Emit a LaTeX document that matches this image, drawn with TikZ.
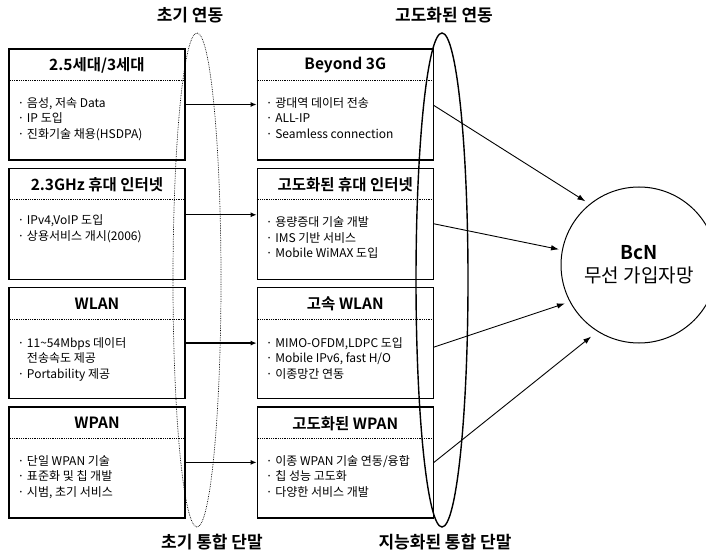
\documentclass[tikz,border=0pt]{standalone}
\usepackage{fontspec}
\setmainfont{Noto Sans CJK KR}[BoldFont={Noto Sans CJK KR Bold}]
\usepackage{tikz}
\usetikzlibrary{arrows.meta,positioning,shapes.geometric}
\tikzset{
  techbox/.style={draw, line width=1.3pt, minimum width=176pt, minimum height=111pt, inner sep=0pt},
  boxtitle/.style={font=\fontsize{15.5}{18}\selectfont\bfseries, inner sep=0pt},
  boxitems/.style={font=\fontsize{12}{15.5}\selectfont, align=left, anchor=north west, inner sep=0pt},
  sepline/.style={densely dotted, line width=0.8pt},
  linkarrow/.style={-{Latex[length=6pt,width=5pt]}, line width=1.3pt},
  netarrow/.style={-{Latex[length=8pt,width=5.5pt]}, line width=0.9pt},
  phaselabel/.style={font=\fontsize{17}{20}\selectfont\bfseries, inner sep=0pt},
  ring/.style={ellipse, draw, inner sep=0pt, minimum width=48pt, minimum height=494pt}
}

\begin{document}
\begin{tikzpicture}[x=1pt, y=-1pt]
  \fill[white] (0,0) rectangle (706,553);
  \useasboundingbox (0,0) rectangle (706,553);

  % current systems (left column)
  \node[techbox] (gen3) at (97,104.5) {};
  \node[techbox, below=7pt of gen3] (inet23) {};
  \node[techbox, below=7pt of inet23] (wlan) {};
  \node[techbox, below=7pt of wlan] (wpan) {};

  % advanced systems (right column)
  \node[techbox, right=71pt of gen3] (b3g) {};
  \node[techbox, right=71pt of inet23] (inetadv) {};
  \node[techbox, right=71pt of wlan] (wlanhs) {};
  \node[techbox, right=71pt of wpan] (wpanadv) {};

  % titles and separators
  \node[boxtitle] (gen3t) at ([yshift=-17pt]gen3.north) {2.5세대/3세대};
  \node[boxtitle] (inet23t) at ([yshift=-17pt]inet23.north) {2.3GHz 휴대 인터넷};
  \node[boxtitle] (wlant) at ([yshift=-17pt]wlan.north) {WLAN};
  \node[boxtitle] (wpant) at ([yshift=-17pt]wpan.north) {WPAN};
  \node[boxtitle] (b3gt) at ([yshift=-17pt]b3g.north) {Beyond 3G};
  \node[boxtitle] (inetadvt) at ([yshift=-17pt]inetadv.north) {고도화된 휴대 인터넷};
  \node[boxtitle] (wlanhst) at ([yshift=-17pt]wlanhs.north) {고속 WLAN};
  \node[boxtitle] (wpanadvt) at ([yshift=-17pt]wpanadv.north) {고도화된 WPAN};
  \draw[sepline] ([yshift=-32pt]gen3.north west) -- ([yshift=-32pt]gen3.north east);
  \draw[sepline] ([yshift=-32pt]inet23.north west) -- ([yshift=-32pt]inet23.north east);
  \draw[sepline] ([yshift=-32pt]wlan.north west) -- ([yshift=-32pt]wlan.north east);
  \draw[sepline] ([yshift=-32pt]wpan.north west) -- ([yshift=-32pt]wpan.north east);
  \draw[sepline] ([yshift=-32pt]b3g.north west) -- ([yshift=-32pt]b3g.north east);
  \draw[sepline] ([yshift=-32pt]inetadv.north west) -- ([yshift=-32pt]inetadv.north east);
  \draw[sepline] ([yshift=-32pt]wlanhs.north west) -- ([yshift=-32pt]wlanhs.north east);
  \draw[sepline] ([yshift=-32pt]wpanadv.north west) -- ([yshift=-32pt]wpanadv.north east);

  % bullet items
  \node[boxitems] (gen3i) at ([xshift=9pt,yshift=-49pt]gen3.north west) {· 음성, 저속 Data\\· IP 도입\\· 진화기술 채용(HSDPA)};
  \node[boxitems] (inet23i) at ([xshift=9pt,yshift=-47pt]inet23.north west) {· IPv4,VoIP 도입\\· 상용서비스 개시(2006)};
  \node[boxitems] (wlani) at ([xshift=9pt,yshift=-50pt]wlan.north west) {· 11\textasciitilde 54Mbps 데이터\\\phantom{· }전송속도 제공\\· Portability 제공};
  \node[boxitems] (wpani) at ([xshift=9pt,yshift=-49pt]wpan.north west) {· 단일 WPAN 기술\\· 표준화 및 칩 개발\\· 시범, 초기 서비스};
  \node[boxitems] (b3gi) at ([xshift=9pt,yshift=-49pt]b3g.north west) {· 광대역 데이터 전송\\· ALL-IP\\· Seamless connection};
  \node[boxitems] (inetadvi) at ([xshift=9pt,yshift=-49pt]inetadv.north west) {· 용량증대 기술 개발\\· IMS 기반 서비스\\· Mobile WiMAX 도입};
  \node[boxitems] (wlanhsi) at ([xshift=9pt,yshift=-50pt]wlanhs.north west) {· MIMO-OFDM,LDPC 도입\\· Mobile IPv6, fast H/O\\· 이종망간 연동};
  \node[boxitems] (wpanadvi) at ([xshift=9pt,yshift=-49pt]wpanadv.north west) {· 이종 WPAN 기술 연동/융합\\· 칩 성능 고도화\\· 다양한 서비스 개발};

  % target network
  \node[circle, draw, line width=1pt, minimum size=156pt, inner sep=0pt, align=center,
        font=\fontsize{19}{23}\selectfont] (bcn) at (639,265) {\textbf{BcN}\\무선 가입자망};

  % evolution arrows
  \draw[linkarrow] (gen3.east) -- (b3g.west);
  \draw[linkarrow] ([yshift=9pt]inet23.east) -- ([yshift=9pt]inetadv.west);
  \draw[linkarrow] (wlan.east) -- (wlanhs.west);
  \draw[linkarrow] (wpan.east) -- (wpanadv.west);
  \draw[netarrow, shorten >=5pt] ([yshift=-1pt]b3g.east) -- (bcn.129);
  \draw[netarrow, shorten >=3pt] (inetadv.east) -- (bcn.169);
  \draw[netarrow, shorten >=5pt] ([yshift=-4pt]wlanhs.east) -- (bcn.208);
  \draw[netarrow, shorten >=8pt] (wpanadv.east) -- (bcn.238);

  % integration phases
  \node[ring, densely dotted, line width=0.7pt] (earlyring) at (197,280) {};
  \node[ring, line width=1.4pt, minimum width=52pt] (advring) at (442,280) {};
  \node[phaselabel] (earlytop) at (190,15) {초기 연동};
  \node[phaselabel] (advtop) at (444,15) {고도화된 연동};
  \node[phaselabel] (earlybot) at (212,542) {초기 통합 단말};
  \node[phaselabel] (advbot) at (445,542) {지능화된 통합 단말};
\end{tikzpicture}
\end{document}
